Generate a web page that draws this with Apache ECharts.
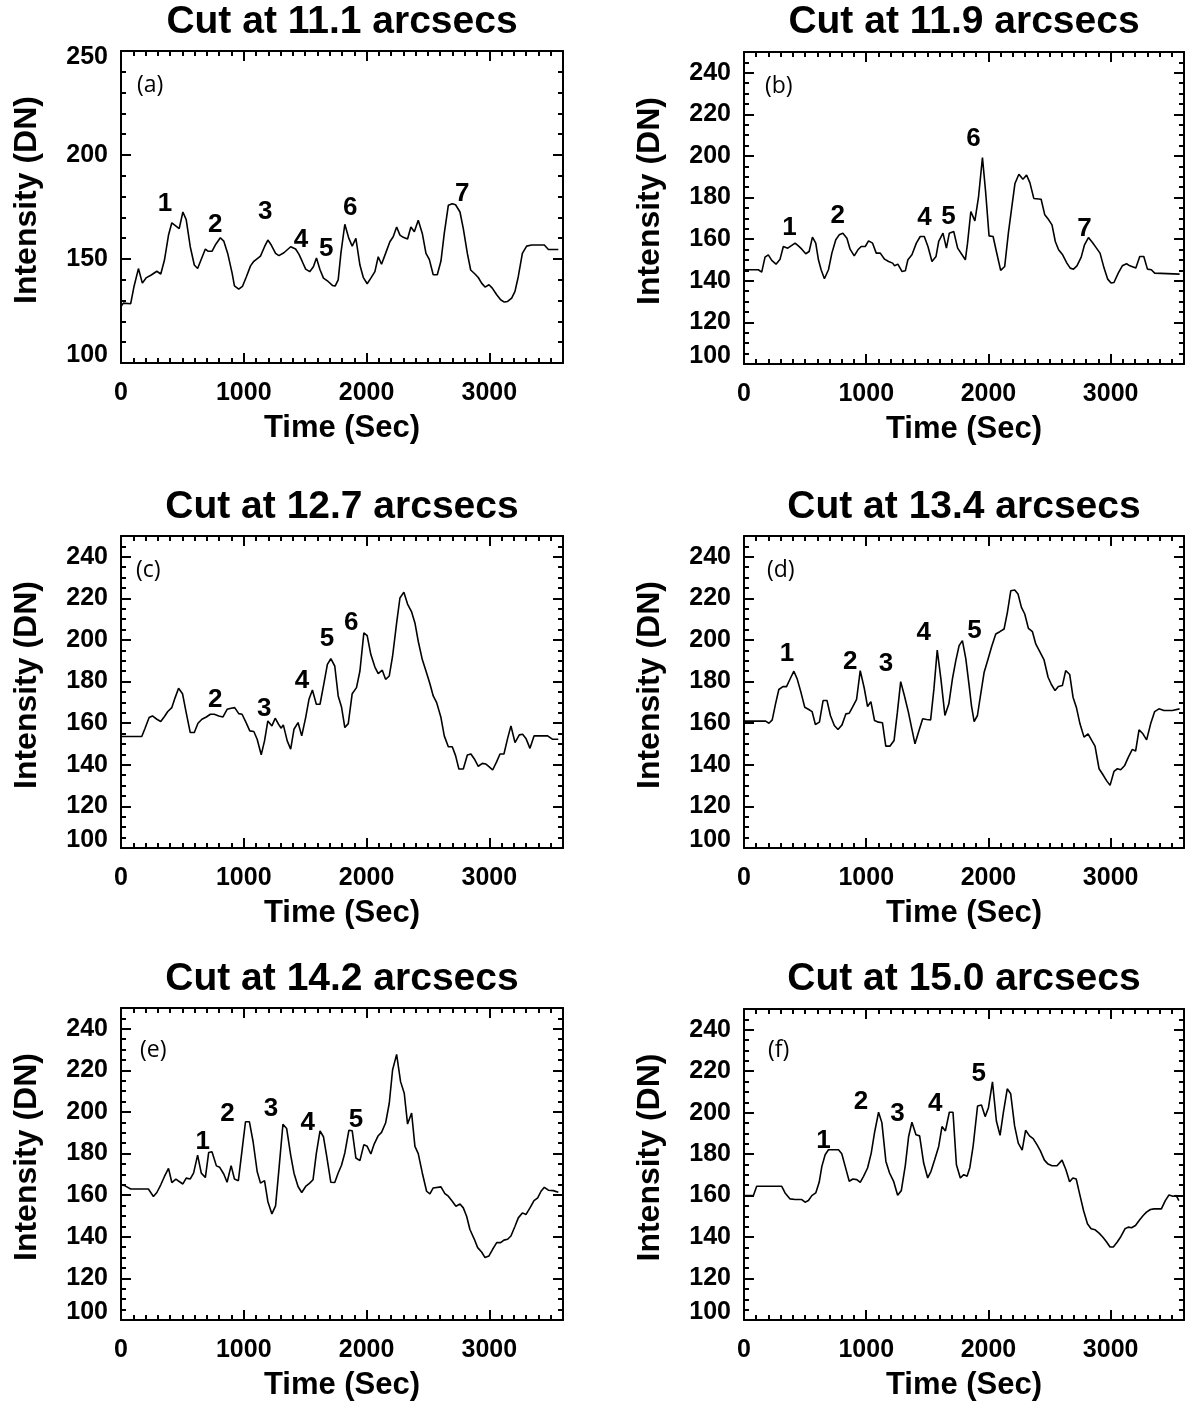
<!DOCTYPE html>
<html><head><meta charset="utf-8">
<script src="https://cdn.jsdelivr.net/npm/echarts@6/dist/echarts.min.js"></script>
<style>html,body{margin:0;padding:0;background:#fff}#c{width:1189px;height:1402px}</style>
</head><body><div id="c"></div><script>
// ---------------- data ----------------
const titles = ['Cut at 11.1 arcsecs','Cut at 11.9 arcsecs','Cut at 12.7 arcsecs','Cut at 13.4 arcsecs','Cut at 14.2 arcsecs','Cut at 15.0 arcsecs'];
const panelTags = ['(a)','(b)','(c)','(d)','(e)','(f)'];
const xTickLabels = [0,1000,2000,3000];
const yTicksA = [100,150,200,250];
const yTicksOther = [100,120,140,160,180,200,220,240];

// [time (s), intensity (DN)]
const seriesA = [[0,127.2],[19,128.8],[79,128.5],[106,136.8],[142,145.4],[174,138.4],[204,140.9],[243,142.2],[292,144.1],[324,142.8],[354,149.5],[387,161.5],[414,167.4],[474,164.6],[504,172.6],[531,168.9],[564,155.9],[597,147.1],[624,145.4],[687,154.8],[708,153.8],[741,153.7],[768,156.7],[809,160.2],[837,158.6],[869,152.7],[905,143.2],[924,137.1],[959,135.5],[989,136.8],[1022,141.6],[1055,146.7],[1082,148.9],[1136,151.4],[1169,155.9],[1196,159.1],[1224,156.7],[1259,152.7],[1286,151.6],[1327,153.0],[1382,155.9],[1422,154.8],[1450,152.2],[1477,148.7],[1504,145.1],[1537,143.9],[1567,146.3],[1592,150.5],[1621,144.8],[1649,140.8],[1687,139.2],[1722,137.3],[1744,137.0],[1769,140.0],[1791,152.7],[1823,166.7],[1856,159.9],[1883,156.2],[1913,159.9],[1946,147.1],[1973,141.2],[2005,138.1],[2035,140.8],[2068,143.9],[2095,151.1],[2122,147.5],[2155,152.7],[2190,158.3],[2217,160.7],[2245,165.4],[2272,161.5],[2299,160.4],[2334,159.6],[2361,165.4],[2389,163.1],[2421,168.6],[2454,162.3],[2484,152.7],[2511,149.8],[2543,142.4],[2576,142.4],[2606,149.0],[2633,162.3],[2666,175.8],[2698,176.6],[2725,176.1],[2761,172.6],[2788,164.6],[2821,152.7],[2848,144.7],[2883,142.8],[2910,141.1],[2937,138.4],[2965,136.5],[2997,137.6],[3024,136.0],[3060,132.8],[3092,130.4],[3122,129.3],[3149,129.6],[3182,131.2],[3209,134.4],[3236,141.6],[3269,152.7],[3304,156.2],[3345,156.7],[3448,156.7],[3481,154.6],[3562,154.6]];
const seriesB = [[0,145.3],[117,145.3],[145,144.2],[172,151.4],[199,152.5],[227,149.8],[262,148.0],[295,150.4],[322,156.5],[358,155.7],[385,156.8],[418,158.1],[445,156.8],[473,155.2],[505,153.0],[533,154.1],[560,161.0],[587,158.1],[609,150.1],[631,145.3],[658,141.0],[691,145.3],[719,153.3],[751,159.7],[779,162.1],[809,162.9],[842,160.5],[868,155.2],[902,152.0],[932,154.9],[959,156.5],[992,156.5],[1019,159.2],[1052,158.1],[1082,153.3],[1115,153.3],[1150,150.4],[1183,149.3],[1216,148.5],[1232,147.2],[1259,148.0],[1292,144.5],[1320,144.8],[1341,150.1],[1374,152.5],[1410,158.1],[1442,161.3],[1475,161.3],[1505,156.5],[1538,149.3],[1571,151.7],[1593,158.9],[1628,162.9],[1656,155.7],[1680,162.9],[1716,163.7],[1748,155.7],[1784,152.5],[1811,150.1],[1829,158.1],[1856,173.3],[1889,168.8],[1919,180.4],[1951,199.3],[1978,182.0],[2005,161.6],[2038,161.3],[2065,154.1],[2100,145.0],[2133,146.9],[2163,162.9],[2190,174.9],[2217,186.8],[2249,191.2],[2282,188.8],[2312,190.8],[2339,187.2],[2371,179.6],[2431,179.2],[2461,171.7],[2493,169.3],[2520,166.9],[2547,158.9],[2574,154.9],[2607,152.5],[2642,148.5],[2669,146.1],[2696,145.6],[2724,147.2],[2759,151.4],[2786,157.3],[2818,160.8],[2851,158.4],[2878,156.2],[2913,153.3],[2946,146.1],[2976,140.8],[3003,138.9],[3027,139.2],[3062,143.7],[3095,147.2],[3130,148.2],[3157,147.2],[3206,146.1],[3238,151.7],[3271,151.7],[3301,145.6],[3333,145.3],[3360,143.7],[3564,143.2]];
const seriesC = [[0,153.6],[169,153.6],[196,157.6],[229,162.7],[256,163.5],[292,161.9],[324,160.8],[354,163.2],[381,165.6],[414,167.5],[441,172.3],[469,176.8],[501,174.2],[531,165.1],[564,155.5],[597,155.5],[627,160.0],[659,161.9],[695,163.0],[728,164.3],[760,164.3],[796,163.5],[831,163.0],[864,166.7],[897,167.2],[926,167.5],[959,164.6],[986,164.3],[1019,160.3],[1049,156.3],[1082,156.0],[1109,152.3],[1142,144.8],[1169,151.5],[1196,161.1],[1229,158.7],[1256,162.4],[1283,159.5],[1305,157.6],[1322,159.2],[1354,151.5],[1382,147.5],[1409,157.1],[1442,160.3],[1472,153.9],[1504,162.7],[1531,171.5],[1559,176.0],[1591,169.1],[1621,169.1],[1654,179.5],[1681,188.3],[1709,191.0],[1741,187.5],[1769,173.1],[1796,167.8],[1823,157.9],[1851,159.8],[1883,174.2],[1918,177.1],[1946,185.1],[1978,203.4],[2005,202.1],[2035,193.0],[2068,187.0],[2095,183.8],[2128,185.5],[2155,181.1],[2185,182.7],[2212,192.2],[2245,208.2],[2272,220.2],[2304,223.0],[2334,217.3],[2367,213.5],[2394,208.2],[2421,199.4],[2454,190.6],[2484,185.1],[2516,179.0],[2543,173.1],[2571,169.9],[2606,162.7],[2633,153.9],[2666,148.7],[2698,148.7],[2725,144.4],[2752,138.0],[2788,138.0],[2821,144.7],[2850,145.2],[2878,142.8],[2910,139.3],[2943,140.7],[2970,140.4],[2997,139.1],[3027,137.5],[3060,141.5],[3087,145.2],[3119,145.2],[3149,152.7],[3176,158.7],[3209,150.7],[3244,154.4],[3271,154.7],[3298,152.7],[3331,147.9],[3364,153.9],[3475,153.9],[3513,152.3],[3562,152.3]];
const seriesD = [[0,161.0],[177,161.0],[204,160.0],[231,161.6],[258,169.3],[285,176.2],[318,177.6],[348,177.6],[375,181.0],[408,185.0],[435,181.3],[467,174.6],[497,167.7],[530,166.6],[557,165.6],[584,159.4],[617,160.5],[647,170.9],[679,170.9],[707,163.7],[739,158.9],[769,157.0],[802,159.2],[834,164.5],[861,164.8],[888,167.7],[921,171.4],[951,185.3],[984,176.8],[1011,168.0],[1038,170.4],[1068,161.3],[1100,160.5],[1133,160.2],[1160,149.0],[1195,149.0],[1228,151.7],[1255,165.3],[1282,180.0],[1312,173.3],[1345,165.3],[1372,157.6],[1399,150.1],[1432,156.5],[1462,162.1],[1494,161.8],[1527,161.6],[1554,176.5],[1581,195.2],[1611,181.3],[1644,163.7],[1676,169.3],[1706,181.6],[1733,190.1],[1760,197.3],[1787,199.7],[1815,190.9],[1842,178.1],[1861,168.5],[1883,160.8],[1910,163.7],[1937,174.1],[1965,184.5],[1997,190.9],[2027,197.0],[2060,202.9],[2093,204.0],[2128,205.3],[2155,213.3],[2183,223.7],[2215,224.0],[2242,222.1],[2270,215.7],[2297,212.5],[2327,205.6],[2360,204.0],[2387,198.1],[2420,194.4],[2455,190.4],[2488,182.1],[2515,178.6],[2545,175.7],[2572,177.6],[2605,178.1],[2632,185.3],[2665,183.4],[2692,172.5],[2719,167.7],[2749,159.7],[2782,153.3],[2815,154.9],[2845,151.7],[2872,149.0],[2905,138.1],[2932,135.7],[2965,132.5],[2995,130.1],[3027,136.8],[3055,138.1],[3082,137.6],[3115,139.7],[3145,143.7],[3177,147.4],[3204,146.6],[3232,156.8],[3264,154.9],[3294,152.0],[3327,159.7],[3360,165.6],[3395,166.9],[3436,166.1],[3504,166.1],[3564,166.9]];
const seriesE = [[0,165.0],[33,164.5],[79,163.0],[223,163.0],[264,159.4],[292,161.3],[324,165.0],[354,169.0],[387,172.9],[414,166.1],[447,167.7],[474,166.6],[504,165.4],[531,168.2],[564,167.8],[591,170.6],[624,179.3],[654,170.6],[687,168.5],[714,180.5],[741,180.9],[777,174.1],[804,173.4],[837,170.2],[864,166.2],[897,174.2],[924,167.8],[956,167.0],[986,181.7],[1014,195.3],[1046,195.3],[1076,185.7],[1109,171.4],[1136,165.8],[1169,167.0],[1196,157.0],[1229,151.0],[1259,154.9],[1286,172.2],[1319,194.1],[1349,192.1],[1382,179.3],[1409,170.6],[1442,164.2],[1472,161.3],[1504,164.2],[1537,165.8],[1564,167.4],[1591,180.1],[1621,190.9],[1649,188.1],[1676,178.5],[1709,166.2],[1741,166.1],[1769,170.7],[1796,174.4],[1823,180.3],[1856,191.2],[1883,191.0],[1913,177.9],[1946,176.6],[1978,184.3],[2005,183.5],[2035,179.8],[2062,184.6],[2095,188.6],[2122,190.2],[2155,194.7],[2185,204.2],[2212,220.2],[2245,227.7],[2277,214.6],[2307,209.0],[2334,194.2],[2367,199.5],[2394,183.5],[2421,180.0],[2454,170.7],[2489,161.9],[2516,160.6],[2543,163.5],[2606,164.0],[2638,160.8],[2666,159.5],[2698,157.1],[2728,154.7],[2761,155.8],[2788,153.9],[2815,149.9],[2842,143.5],[2878,138.8],[2905,134.8],[2937,132.7],[2965,130.0],[2997,130.8],[3027,134.0],[3060,137.2],[3092,137.2],[3119,138.4],[3149,138.8],[3176,140.4],[3209,145.1],[3236,149.1],[3269,151.5],[3298,150.7],[3331,153.9],[3364,157.4],[3394,158.7],[3421,161.9],[3448,163.8],[3481,162.4],[3521,162.2],[3562,161.4]];
const seriesF = [[0,160.0],[77,160.0],[104,164.5],[309,164.5],[336,161.3],[377,158.4],[418,158.1],[473,158.1],[500,156.8],[527,157.6],[555,160.0],[587,161.3],[615,166.4],[637,174.1],[664,179.7],[691,182.1],[773,182.1],[800,180.2],[828,174.1],[861,166.9],[891,168.0],[923,167.7],[951,166.4],[978,169.3],[1011,173.3],[1041,180.5],[1068,190.4],[1101,200.2],[1128,195.2],[1161,176.5],[1191,170.9],[1224,166.9],[1257,160.2],[1287,162.4],[1320,174.6],[1347,188.5],[1374,195.4],[1407,189.3],[1437,188.8],[1470,175.7],[1503,168.5],[1530,171.7],[1560,177.3],[1593,183.7],[1620,193.3],[1648,191.2],[1680,200.2],[1710,200.2],[1738,174.9],[1770,168.5],[1798,170.1],[1825,169.3],[1848,173.6],[1875,184.0],[1911,203.2],[1943,203.7],[1973,198.1],[2000,202.4],[2033,214.9],[2065,196.0],[2095,189.1],[2122,200.0],[2154,211.5],[2182,209.1],[2214,193.6],[2244,185.3],[2276,181.9],[2304,191.5],[2336,188.8],[2366,187.5],[2398,184.5],[2425,181.6],[2458,177.1],[2488,175.2],[2520,174.4],[2561,174.4],[2602,177.1],[2634,172.5],[2664,166.7],[2691,168.5],[2718,168.0],[2745,161.1],[2778,152.8],[2810,146.4],[2840,144.0],[2873,143.5],[2905,141.9],[2935,140.0],[2967,137.6],[2995,135.2],[3022,135.2],[3054,137.6],[3084,140.3],[3117,144.0],[3144,144.8],[3171,144.5],[3203,145.6],[3233,148.0],[3266,150.4],[3293,152.0],[3325,153.3],[3355,153.6],[3415,153.6],[3447,157.6],[3477,160.3],[3510,159.7],[3537,160.0],[3558,157.6]];

// peak annotations: [time, intensity, text]
const peaksA = [[359,176.4,'1'],[767,166.4,'2'],[1174,172.6,'3'],[1466,159.0,'4'],[1672,154.8,'5'],[1868,174.7,'6'],[2779,181.5,'7']];
const peaksB = [[372,165.3,'1'],[767,171.4,'2'],[1477,170.1,'4'],[1673,170.9,'5'],[1877,208.3,'6'],[2786,164.9,'7']];
const peaksC = [[767,171.0,'2'],[1166,166.8,'3'],[1474,180.4,'4'],[1678,200.6,'5'],[1876,208.1,'6']];
const peaksD = [[352,193.3,'1'],[870,189.3,'2'],[1162,188.5,'3'],[1470,203.4,'4'],[1885,204.5,'5']];
const peaksE = [[666,185.7,'1'],[867,199.3,'2'],[1221,201.7,'3'],[1520,194.8,'4'],[1914,196.1,'5']];
const peaksF = [[650,186.6,'1'],[958,205.0,'2'],[1256,199.5,'3'],[1564,204.3,'4'],[1920,218.7,'5']];

// ---------------- layout / style ----------------
const allSeries = [seriesA,seriesB,seriesC,seriesD,seriesE,seriesF];
const allPeaks = [peaksA,peaksB,peaksC,peaksD,peaksE,peaksF];
const grids = [
  {left:121, top:51,   width:442, height:312},
  {left:744, top:52,   width:440, height:312},
  {left:121, top:536,  width:442, height:312},
  {left:744, top:536,  width:440, height:312},
  {left:121, top:1008, width:442, height:312},
  {left:744, top:1009, width:440, height:312}
];
const titleY = [22,22,507,507,979,979];
const tagPos = [[137,85],[765,86],[136,570],[767,570],[140,1050],[768,1050]];
const FONT = '"Liberation Sans", Arial, Helvetica, sans-serif';
const BLACK = '#000';

const xAxes = [], yAxes = [], series = [], graphics = [];

function tickStyle(len){ return {show:true, inside:true, length:len, lineStyle:{color:BLACK, width:2}}; }

grids.forEach((g,i)=>{
  const isA = i===0;
  const yMajor = isA ? 50 : 20;
  const yMinor = isA ? 10 : 5;
  const base = i*4;
  xAxes.push({gridIndex:i, type:'value', position:'bottom', min:0, max:3600, interval:1000,
    axisLine:{show:true, onZero:false, lineStyle:{color:BLACK, width:2}},
    axisTick:tickStyle(10), splitLine:{show:false},
    axisLabel:{show:true, showMaxLabel:false, margin:18, color:BLACK, fontSize:25, fontWeight:'bold', fontFamily:FONT,
      formatter:(v)=>String(v)},
    name:'Time (Sec)', nameLocation:'middle', nameGap:50,
    nameTextStyle:{color:BLACK, fontSize:31, fontWeight:'bold', fontFamily:FONT}});
  xAxes.push({gridIndex:i, type:'value', position:'bottom', min:0, max:3600, interval:100,
    axisLine:{show:false, onZero:false}, axisTick:tickStyle(5), axisLabel:{show:false}, splitLine:{show:false}});
  xAxes.push({gridIndex:i, type:'value', position:'top', min:0, max:3600, interval:1000,
    axisLine:{show:true, onZero:false, lineStyle:{color:BLACK, width:2}}, axisTick:tickStyle(10), axisLabel:{show:false}, splitLine:{show:false}});
  xAxes.push({gridIndex:i, type:'value', position:'top', min:0, max:3600, interval:100,
    axisLine:{show:false, onZero:false}, axisTick:tickStyle(5), axisLabel:{show:false}, splitLine:{show:false}});
  const rich = {
    n:{fontSize:25, fontWeight:'bold', fontFamily:FONT, color:BLACK},
    lo:{fontSize:25, fontWeight:'bold', fontFamily:FONT, color:BLACK, padding:[0,0,16,0]},
    hi:{fontSize:25, fontWeight:'bold', fontFamily:FONT, color:BLACK, padding:[12,0,0,0]}
  };
  yAxes.push({gridIndex:i, type:'value', position:'left', min:100, max:250, interval:yMajor,
    axisLine:{show:true, onZero:false, lineStyle:{color:BLACK, width:2}},
    axisTick:tickStyle(10), splitLine:{show:false},
    axisLabel:{show:true, showMaxLabel:isA, margin:13, color:BLACK, fontSize:25, fontWeight:'bold', fontFamily:FONT,
      formatter:(v)=> v===100 ? '{lo|100}' : (v===250 ? '{hi|250}' : '{n|'+v+'}'), rich:rich},
    name:'Intensity (DN)', nameLocation:'middle', nameGap:78,
    nameTextStyle:{color:BLACK, fontSize:32, fontWeight:'bold', fontFamily:FONT, padding:[0,0,0,14]}});
  yAxes.push({gridIndex:i, type:'value', position:'left', min:100, max:250, interval:yMinor,
    axisLine:{show:false, onZero:false}, axisTick:tickStyle(5), axisLabel:{show:false}, splitLine:{show:false}});
  yAxes.push({gridIndex:i, type:'value', position:'right', min:100, max:250, interval:yMajor,
    axisLine:{show:true, onZero:false, lineStyle:{color:BLACK, width:2}}, axisTick:tickStyle(10), axisLabel:{show:false}, splitLine:{show:false}});
  yAxes.push({gridIndex:i, type:'value', position:'right', min:100, max:250, interval:yMinor,
    axisLine:{show:false, onZero:false}, axisTick:tickStyle(5), axisLabel:{show:false}, splitLine:{show:false}});

  series.push({type:'line', xAxisIndex:base, yAxisIndex:base, data:allSeries[i], showSymbol:false, symbol:'none',
    lineStyle:{color:BLACK, width:1.6}, silent:true, animation:false, clip:true});

  graphics.push({type:'text', x:g.left + g.width/2, y:titleY[i], silent:true,
    style:{text:titles[i], fill:BLACK, font:'bold 39px '+FONT, align:'center', verticalAlign:'middle'}});
  graphics.push({type:'text', x:tagPos[i][0], y:tagPos[i][1], silent:true,
    style:{text:panelTags[i], fill:BLACK, font:'23px "Open Sans", "Noto Sans", sans-serif', align:'left', verticalAlign:'middle'}});
});

const chart = echarts.init(document.getElementById('c'), null, {renderer:'canvas'});
chart.setOption({
  backgroundColor:'#fff',
  animation:false,
  grid: grids.map(g=>Object.assign({containLabel:false, show:false}, g)),
  xAxis: xAxes, yAxis: yAxes, series: series, graphic: graphics
});
// peak number labels placed at data coordinates through the panel's axes
const peakTexts = [];
allPeaks.forEach((pk,i)=>{
  pk.forEach(p=>{
    const px = chart.convertToPixel({xAxisIndex:i*4, yAxisIndex:i*4}, [p[0], p[1]]);
    peakTexts.push({type:'text', x:px[0], y:px[1], silent:true,
      style:{text:p[2], fill:BLACK, font:'bold 26px '+FONT, align:'center', verticalAlign:'middle'}});
  });
});
chart.setOption({graphic: graphics.concat(peakTexts)});
</script></body></html>
